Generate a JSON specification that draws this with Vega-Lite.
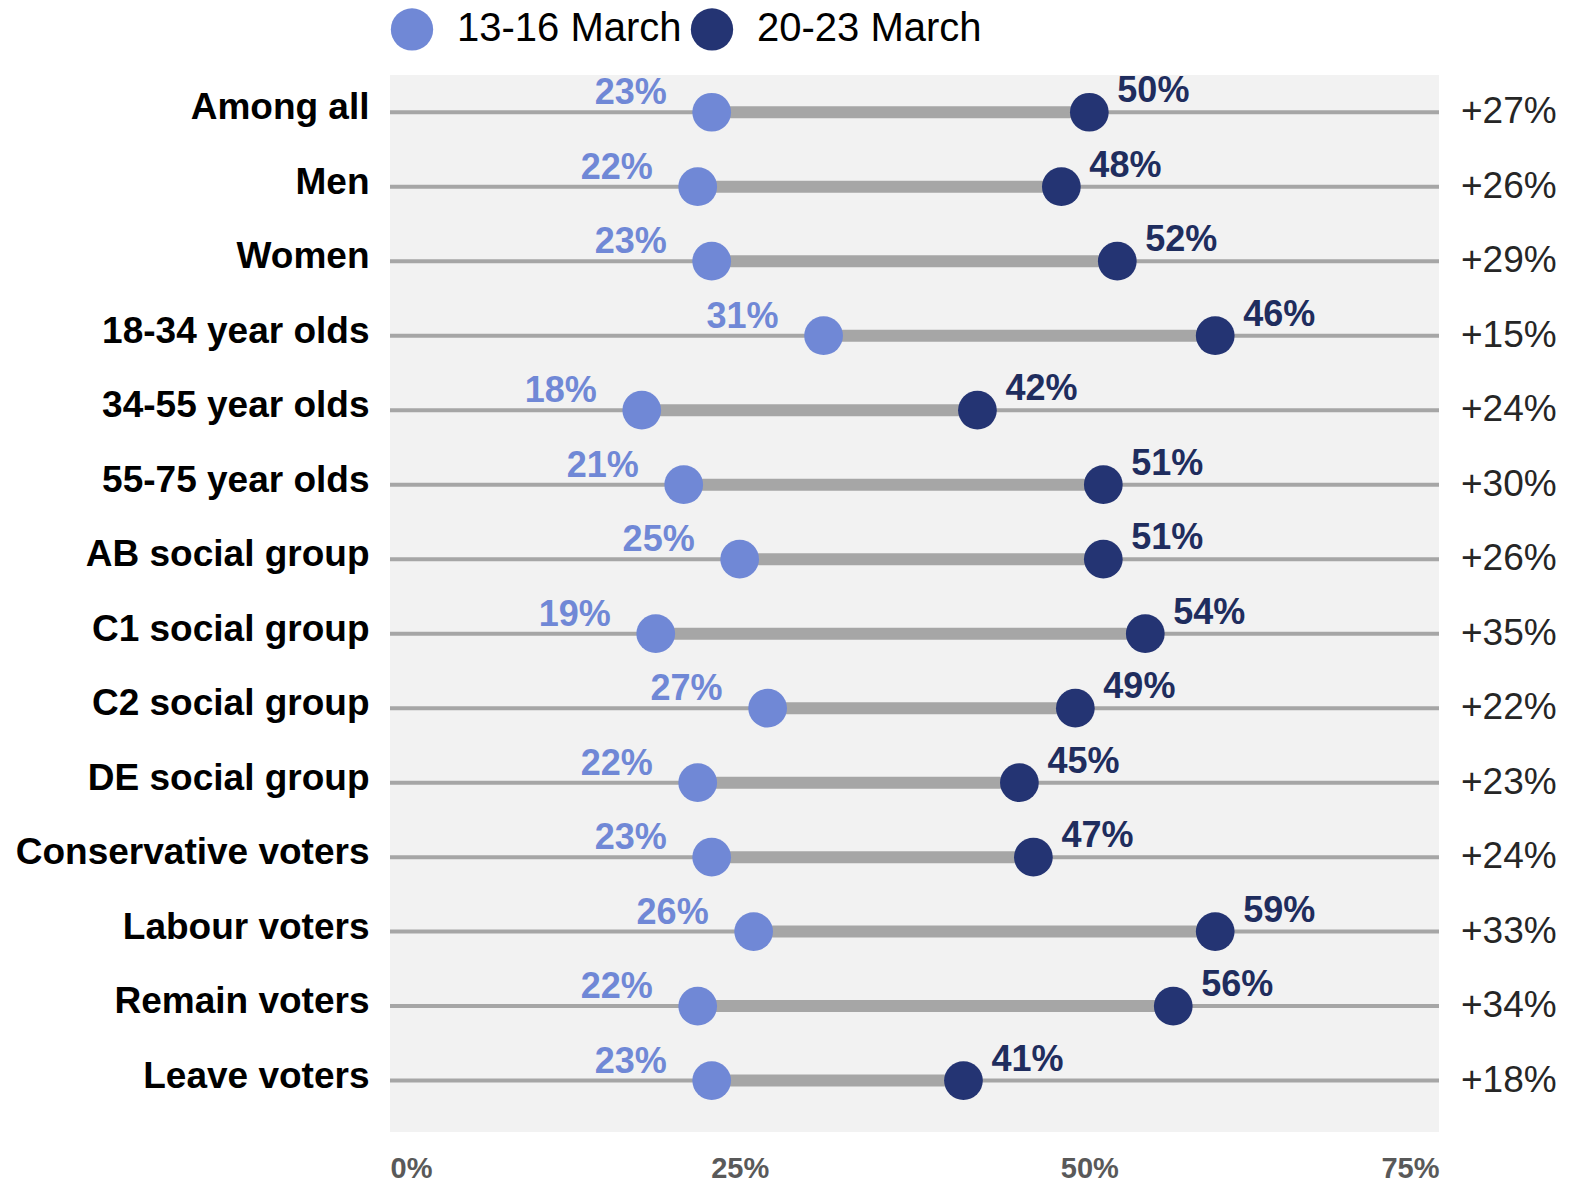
{
  "$schema": "https://vega.github.io/schema/vega-lite/v6.json",
  "width": 1049,
  "height": 1057,
  "autosize": "none",
  "padding": {"left": 390, "top": 75, "right": 139, "bottom": 53},
  "background": "white",
  "config": {
    "font": "Liberation Sans",
    "view": {"fill": "#f2f2f2", "stroke": null}
  },
  "data": {
    "values": [
      {"group": "Among all", "start": 23, "end": 50, "startLabel": "23%", "endLabel": "50%", "diff": "+27%"},
      {"group": "Men", "start": 22, "end": 48, "startLabel": "22%", "endLabel": "48%", "diff": "+26%"},
      {"group": "Women", "start": 23, "end": 52, "startLabel": "23%", "endLabel": "52%", "diff": "+29%"},
      {"group": "18-34 year olds", "start": 31, "end": 59, "startLabel": "31%", "endLabel": "46%", "diff": "+15%"},
      {"group": "34-55 year olds", "start": 18, "end": 42, "startLabel": "18%", "endLabel": "42%", "diff": "+24%"},
      {"group": "55-75 year olds", "start": 21, "end": 51, "startLabel": "21%", "endLabel": "51%", "diff": "+30%"},
      {"group": "AB social group", "start": 25, "end": 51, "startLabel": "25%", "endLabel": "51%", "diff": "+26%"},
      {"group": "C1 social group", "start": 19, "end": 54, "startLabel": "19%", "endLabel": "54%", "diff": "+35%"},
      {"group": "C2 social group", "start": 27, "end": 49, "startLabel": "27%", "endLabel": "49%", "diff": "+22%"},
      {"group": "DE social group", "start": 22, "end": 45, "startLabel": "22%", "endLabel": "45%", "diff": "+23%"},
      {"group": "Conservative voters", "start": 23, "end": 46, "startLabel": "23%", "endLabel": "47%", "diff": "+24%"},
      {"group": "Labour voters", "start": 26, "end": 59, "startLabel": "26%", "endLabel": "59%", "diff": "+33%"},
      {"group": "Remain voters", "start": 22, "end": 56, "startLabel": "22%", "endLabel": "56%", "diff": "+34%"},
      {"group": "Leave voters", "start": 23, "end": 41, "startLabel": "23%", "endLabel": "41%", "diff": "+18%"}
    ]
  },
  "encoding": {
    "y": {
      "field": "group", "type": "nominal", "sort": null,
      "scale": {"paddingInner": 0, "paddingOuter": 0.095, "align": 0},
      "axis": {
        "title": null, "domain": false, "ticks": false,
        "labelFontSize": 37, "labelFontWeight": "bold", "labelColor": "#000000",
        "labelPadding": 21, "labelLimit": 500, "labelOffset": -4
      }
    }
  },
  "layer": [
    {
      "mark": {"type": "rule", "color": "#a6a6a6", "strokeWidth": 4},
      "encoding": {
        "x": {"datum": 0, "type": "quantitative",
          "scale": {"domain": [0, 75], "nice": false, "zero": true},
          "axis": {
            "values": [0, 25, 50, 75], "title": null, "domain": false, "ticks": false, "grid": false,
            "labelExpr": "datum.value + '%'", "labelFontSize": 29, "labelFontWeight": "bold",
            "labelColor": "#595959", "labelPadding": 22
          }},
        "x2": {"datum": 75}
      }
    },
    {
      "mark": {"type": "rule", "color": "#a6a6a6", "strokeWidth": 12},
      "encoding": {
        "x": {"field": "start", "type": "quantitative"},
        "x2": {"field": "end"}
      }
    },
    {
      "transform": [{"fold": ["start", "end"], "as": ["series", "value"]}],
      "mark": {"type": "point", "filled": true, "opacity": 1, "shape": "circle", "size": 1500},
      "encoding": {
        "x": {"field": "value", "type": "quantitative"},
        "color": {
          "field": "series", "type": "nominal",
          "scale": {"domain": ["start", "end"], "range": ["#7088d6", "#243473"]},
          "legend": {
            "title": null, "orient": "none", "direction": "horizontal",
            "legendX": 0, "legendY": -68, "padding": 0,
            "symbolSize": 1790, "symbolType": "circle",
            "labelFontSize": 40, "labelOffset": 23, "columnPadding": 8,
            "labelExpr": "datum.label == 'start' ? '13-16 March' : '20-23 March'",
            "labelLimit": 400,
            "encode": {"labels": {"update": {"fill": {"signal": "datum.value == 'start' ? '#2e469a' : '#243473'"}}}}
          }
        }
      }
    },
    {
      "mark": {"type": "text", "align": "right", "baseline": "middle", "dx": -45, "dy": -19, "fontSize": 36, "fontWeight": "bold", "color": "#7088d6"},
      "encoding": {
        "x": {"field": "start", "type": "quantitative"},
        "text": {"field": "startLabel"}
      }
    },
    {
      "mark": {"type": "text", "align": "left", "baseline": "middle", "dx": 28, "dy": -21, "fontSize": 36, "fontWeight": "bold", "color": "#1f2d5e"},
      "encoding": {
        "x": {"field": "end", "type": "quantitative"},
        "text": {"field": "endLabel"}
      }
    },
    {
      "mark": {"type": "text", "align": "left", "baseline": "middle", "dx": 22, "dy": 0, "fontSize": 37, "color": "#262626"},
      "encoding": {
        "x": {"datum": 75, "type": "quantitative"},
        "text": {"field": "diff"}
      }
    }
  ]
}
